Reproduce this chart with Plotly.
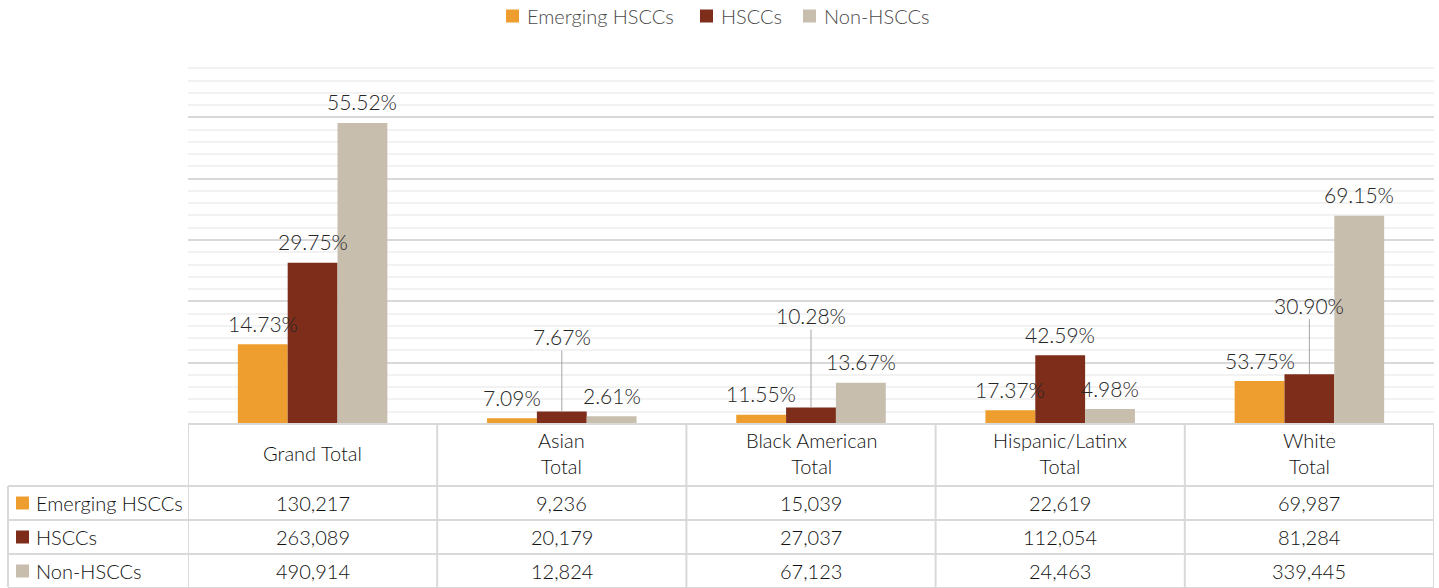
import plotly.graph_objects as go

# data
categories = ["Grand Total", "Asian<br>Total", "Black American<br>Total", "Hispanic/Latinx<br>Total", "White<br>Total"]
series = ["Emerging HSCCs", "HSCCs", "Non-HSCCs"]

emerging = [130217, 9236, 15039, 22619, 69987]
hsccs = [263089, 20179, 27037, 112054, 81284]
non_hsccs = [490914, 12824, 67123, 24463, 339445]

emerging_pct = ["14.73%", "7.09%", "11.55%", "17.37%", "53.75%"]
hsccs_pct = ["29.75%", "7.67%", "10.28%", "42.59%", "30.90%"]
non_hsccs_pct = ["55.52%", "2.61%", "13.67%", "4.98%", "69.15%"]

colors = ["#EE9E2F", "#7D2D1A", "#C8BEAD"]
FONT = "Lato"

W, H = 1439, 588
M_L, M_R, M_T, M_B = 8, 5, 56, 1
PLOT_BOTTOM = 424
BARGAP = 0.4


def py(px):
    # pixel row -> paper y
    return (H - M_B - px) / (H - M_T - M_B)


def px_x(px):
    # pixel column -> paper x
    return (px - M_L) / (W - M_L - M_R)


values = [emerging, hsccs, non_hsccs]
pcts = [emerging_pct, hsccs_pct, non_hsccs_pct]
# labels that Excel moved up with a leader line: (series, category) -> pixel offset
leaders = {(1, 1): 75, (1, 2): 92, (1, 4): 69}

fig = go.Figure()
for name, vals, col in zip(series, values, colors):
    fig.add_trace(go.Bar(x=list(range(len(categories))), y=vals, name=name,
                         marker=dict(color=col, line=dict(width=0))))

annotations = []
bar_w = (1 - BARGAP) / len(series)
lab_font = dict(family=FONT, size=21, color="#262626", weight=300)
for k, (vals, labels) in enumerate(zip(values, pcts)):
    for i, (v, lab) in enumerate(zip(vals, labels)):
        x = i + (k - 1) * bar_w
        if (k, i) in leaders:
            annotations.append(dict(x=x, y=v, xref="x", yref="y", text=lab, showarrow=True,
                                    arrowhead=0, arrowwidth=1, arrowcolor="#a6a6a6", ax=0, ay=-leaders[(k, i)],
                                    font=lab_font))
        else:
            annotations.append(dict(x=x, y=v, xref="x", yref="y", text=lab, showarrow=False,
                                    yanchor="middle", yshift=21, font=lab_font))

# table under the chart
row_tops = [486, 520, 554]
row_h = 34
line_col = "#d9d9d9"
tab_font = dict(family=FONT, size=20, color="#111111", weight=300)
shapes = []
shapes.append(dict(type="line", xref="paper", yref="paper", x0=px_x(188), x1=1, y0=py(PLOT_BOTTOM), y1=py(PLOT_BOTTOM),
                   line=dict(color=line_col, width=2)))
for r in row_tops + [row_tops[-1] + row_h]:
    shapes.append(dict(type="line", xref="paper", yref="paper", x0=0, x1=1, y0=py(r), y1=py(r),
                       line=dict(color=line_col, width=2)))
for i in range(len(categories) + 1):
    shapes.append(dict(type="line", xref="x", yref="paper", x0=i - 0.5, x1=i - 0.5, y0=py(PLOT_BOTTOM), y1=0,
                       line=dict(color=line_col, width=2)))
shapes.append(dict(type="line", xref="paper", yref="paper", x0=0, x1=0, y0=py(row_tops[0]), y1=0,
                   line=dict(color=line_col, width=2)))

for i, cat in enumerate(categories):
    annotations.append(dict(x=i, y=py((PLOT_BOTTOM + row_tops[0]) / 2 - 2), xref="x", yref="paper", text=cat,
                            showarrow=False, yanchor="middle", font=tab_font))

for r, (name, vals, col) in enumerate(zip(series, values, colors)):
    mid = row_tops[r] + row_h / 2
    shapes.append(dict(type="rect", xref="paper", yref="paper", x0=px_x(16), x1=px_x(29),
                       y0=py(mid + 6.5), y1=py(mid - 6.5), fillcolor=col, line=dict(width=0)))
    annotations.append(dict(x=px_x(34), y=py(mid), xref="paper", yref="paper", text=name, showarrow=False,
                            xanchor="left", yanchor="middle", font=tab_font))
    for i, v in enumerate(vals):
        annotations.append(dict(x=i, y=py(mid), xref="x", yref="paper", text=f"{v:,}", showarrow=False,
                                yanchor="middle", font=tab_font))

# legend drawn by hand so the key sits close to its text
leg_font = dict(family=FONT, size=20, color="#4a4a4a", weight=300)
leg_keys = [506, 700, 803]
for name, col, kx in zip(series, colors, leg_keys):
    shapes.append(dict(type="rect", xref="paper", yref="paper", x0=px_x(kx), x1=px_x(kx + 13),
                       y0=py(16 + 6.5), y1=py(16 - 6.5), fillcolor=col, line=dict(width=0)))
    annotations.append(dict(x=px_x(kx + 19), y=py(16), xref="paper", yref="paper", text=name, showarrow=False,
                            xanchor="left", yanchor="middle", font=leg_font))

fig.update_layout(
    width=W, height=H,
    margin=dict(l=M_L, r=M_R, t=M_T, b=M_B),
    paper_bgcolor="white", plot_bgcolor="white",
    barmode="group", bargap=BARGAP, bargroupgap=0,
    showlegend=False,
    xaxis=dict(domain=[px_x(188), 1], range=[-0.5, len(categories) - 0.5], showticklabels=False,
               showgrid=False, zeroline=False, fixedrange=True),
    yaxis=dict(domain=[py(PLOT_BOTTOM), 1], range=[0, 600000], dtick=100000, showticklabels=False,
               gridcolor="#d9d9d9", gridwidth=2, zeroline=False,
               minor=dict(dtick=20000, showgrid=True, gridcolor="#f2f2f2", gridwidth=2)),
    annotations=annotations,
    shapes=shapes,
)

fig.write_html("out.html", config={"displayModeBar": False},
               post_script="document.body.style.margin='0';")
